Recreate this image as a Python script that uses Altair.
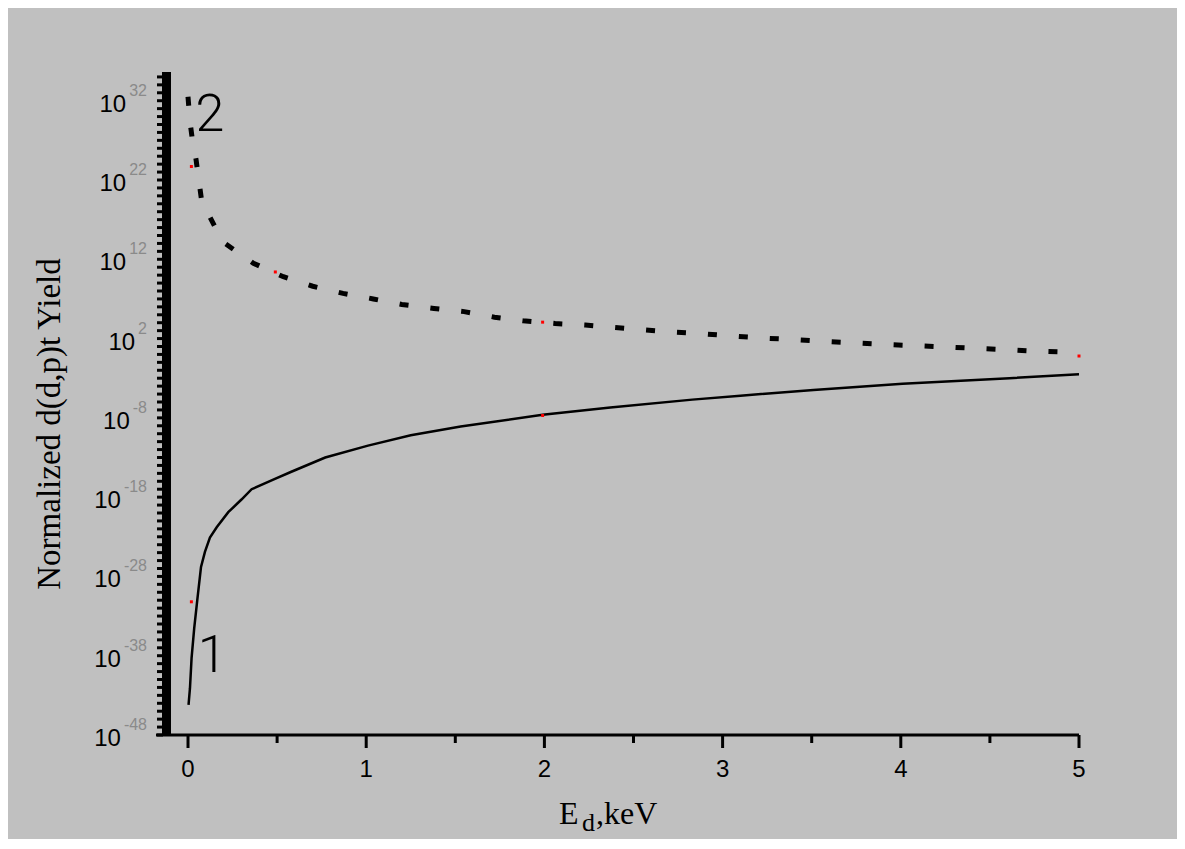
import altair as alt
import pandas as pd

# ---- data (E in keV, k = log10 of normalized yield) ----
# curve 1 (solid)
e1 = [0.003, 0.011, 0.02, 0.035, 0.052, 0.073, 0.095, 0.123, 0.161, 0.226, 0.30, 0.357,
      0.488, 0.58, 0.77, 1.01, 1.25, 1.53, 1.99, 2.37, 2.83, 3.10, 3.51, 4.01, 4.61, 5.0]
k1 = [-44.2, -42.1, -38.3, -34.5, -31.0, -26.8, -24.9, -23.1, -21.8, -19.9, -18.3, -17.0,
      -15.7, -14.8, -13.0, -11.5, -10.2, -9.1, -7.6, -6.7, -5.7, -5.2, -4.5, -3.7, -3.0, -2.5]
# curve 2 (dashed)
e2 = [0.0, 0.011, 0.026, 0.045, 0.063, 0.077, 0.195, 0.367, 0.535, 0.70, 0.87, 1.04, 1.20,
      1.38, 1.55, 1.72, 1.88, 2.06, 2.23, 2.39, 2.56, 2.73, 2.89, 3.07, 3.24, 3.42, 3.57,
      3.75, 3.92, 4.09, 4.25, 4.43, 4.59, 4.76, 4.93, 5.0]
k2 = [32.5, 29.4, 26.8, 24.6, 21.6, 19.3, 14.2, 11.5, 9.8, 8.6, 7.7, 7.0, 6.3,
      5.8, 5.4, 4.7, 4.25, 3.9, 3.7, 3.4, 3.1, 2.8, 2.6, 2.3, 2.05, 1.85, 1.65,
      1.45, 1.25, 1.1, 0.95, 0.75, 0.6, 0.4, 0.3, 0.2]
# red markers
red_e = [0.019, 0.019, 0.49, 1.99, 1.99, 5.0]
red_k = [-31.2, 23.7, 10.4, -7.7, 4.07, -0.2]
# axes
x_ticks = [0, 1, 2, 3, 4, 5]
x_minor = [0.5, 1.5, 2.5, 3.5, 4.5]
y_exps = [32, 22, 12, 2, -8, -18, -28, -38, -48]
y_notches = list(range(-48, 36))
# curve labels
lab_text = ["1", "2"]
lab_e = [0.135, 0.123]
lab_k = [-40.05, 28.2]

BG = "#c0c0c0"
W, H = 922, 666

xs = alt.Scale(domain=[-0.174, 5], nice=False, zero=False)
ys = alt.Scale(type="log", domain=[1e-48, 1e36], nice=False)

c1 = pd.DataFrame({"E": e1, "Y": [10.0 ** k for k in k1]})
c2 = pd.DataFrame({"E": e2, "Y": [10.0 ** k for k in k2]})
red = pd.DataFrame({"E": red_e, "Y": [10.0 ** k for k in red_k]})

def exp_w(s):
    return sum(8.9 if ch.isdigit() else 5.3 for ch in s)

ylab = pd.DataFrame({
    "Y": [10.0 ** k for k in y_exps],
    "ex": [str(k) for k in y_exps],
})
ylab["lx"] = [-10 - exp_w(s) - 3 for s in ylab["ex"]]

notch = pd.DataFrame({"Y": [10.0 ** k for k in y_notches]})
xt = pd.DataFrame({"E": x_ticks, "t": [str(v) for v in x_ticks]})
xm = pd.DataFrame({"E": x_minor})
labs = pd.DataFrame({"E": lab_e, "Y": [10.0 ** k for k in lab_k], "t": lab_text})
one = pd.DataFrame({"a": [0]})

X = lambda: alt.X("E:Q", scale=xs, axis=None)
Yenc = lambda: alt.Y("Y:Q", scale=ys, axis=None)

line1 = alt.Chart(c1).mark_line(color="black", strokeWidth=2.5).encode(
    x=X(), y=Yenc(), order="E:Q")
line2 = alt.Chart(c2).mark_line(color="black", strokeWidth=5, strokeDash=[9, 22],
                                strokeCap="butt").encode(x=X(), y=Yenc(), order="E:Q")
reds = alt.Chart(red).mark_square(size=9, color="#ff0000", opacity=1).encode(x=X(), y=Yenc())

band = alt.Chart(one).mark_rect(color="black").encode(
    x=alt.value(5), x2=alt.value(14), y=alt.value(3), y2=alt.value(H))
notches = alt.Chart(notch).mark_rule(color="black", strokeWidth=3).encode(
    x=alt.value(0), x2=alt.value(6), y=Yenc())

xline = alt.Chart(one).mark_rule(color="black", strokeWidth=3).encode(
    x=alt.value(-1), x2=alt.value(W), y=alt.value(H))
xmaj = alt.Chart(xt).mark_rule(color="black", strokeWidth=3).encode(
    x=X(), y=alt.value(H), y2=alt.value(H + 13))
xmin = alt.Chart(xm).mark_rule(color="black", strokeWidth=3).encode(
    x=X(), y=alt.value(H), y2=alt.value(H + 8))
xlabels = alt.Chart(xt).mark_text(font="Liberation Sans", fontSize=24, color="black",
                                  align="center", baseline="alphabetic").encode(
    x=X(), y=alt.value(H + 42), text="t:N")

ten = alt.Chart(ylab).mark_text(font="Liberation Sans", fontSize=24, color="black",
                                align="right", baseline="alphabetic", dy=11).encode(
    x=alt.X("lx:Q", scale=None), y=Yenc(), text=alt.value("10"))
expo = alt.Chart(ylab).mark_text(font="Liberation Sans", fontSize=16, color="#8a8a8a",
                                 align="right", baseline="alphabetic", dy=-5).encode(
    x=alt.value(-10), y=Yenc(), text="ex:N")

ytitle = alt.Chart(one).mark_text(font="Liberation Serif", fontSize=33, color="black",
                                  angle=270, align="center", baseline="middle").encode(
    x=alt.value(-107), y=alt.value(355), text=alt.value("Normalized d(d,p)t Yield"))
xt_E = alt.Chart(one).mark_text(font="Liberation Serif", fontSize=32, color="black",
                                align="left", baseline="alphabetic").encode(
    x=alt.value(402), y=alt.value(755), text=alt.value("E"))
xt_d = alt.Chart(one).mark_text(font="Liberation Serif", fontSize=26, color="black",
                                align="left", baseline="alphabetic").encode(
    x=alt.value(425), y=alt.value(762), text=alt.value("d"))
xt_r = alt.Chart(one).mark_text(font="Liberation Serif", fontSize=32, color="black",
                                align="left", baseline="alphabetic").encode(
    x=alt.value(439), y=alt.value(755), text=alt.value(",keV"))

clabels = alt.Chart(labs).mark_text(font="Roboto", fontWeight=300, fontSize=52,
                                    color="black", align="center",
                                    baseline="alphabetic").encode(
    x=X(), y=Yenc(), text="t:N")

chart = alt.layer(
    band, notches, xline, xmaj, xmin, xlabels, ten, expo,
    line1, line2, reds, clabels, ytitle, xt_E, xt_d, xt_r
).properties(
    width=W, height=H,
    padding={"left": 149, "top": 61, "right": 98, "bottom": 104},
    autosize=alt.AutoSizeParams(type="none"),
    background=BG,
).configure_view(stroke=None)

chart.save("out.html", embed_options={"renderer": "svg", "actions": False})
